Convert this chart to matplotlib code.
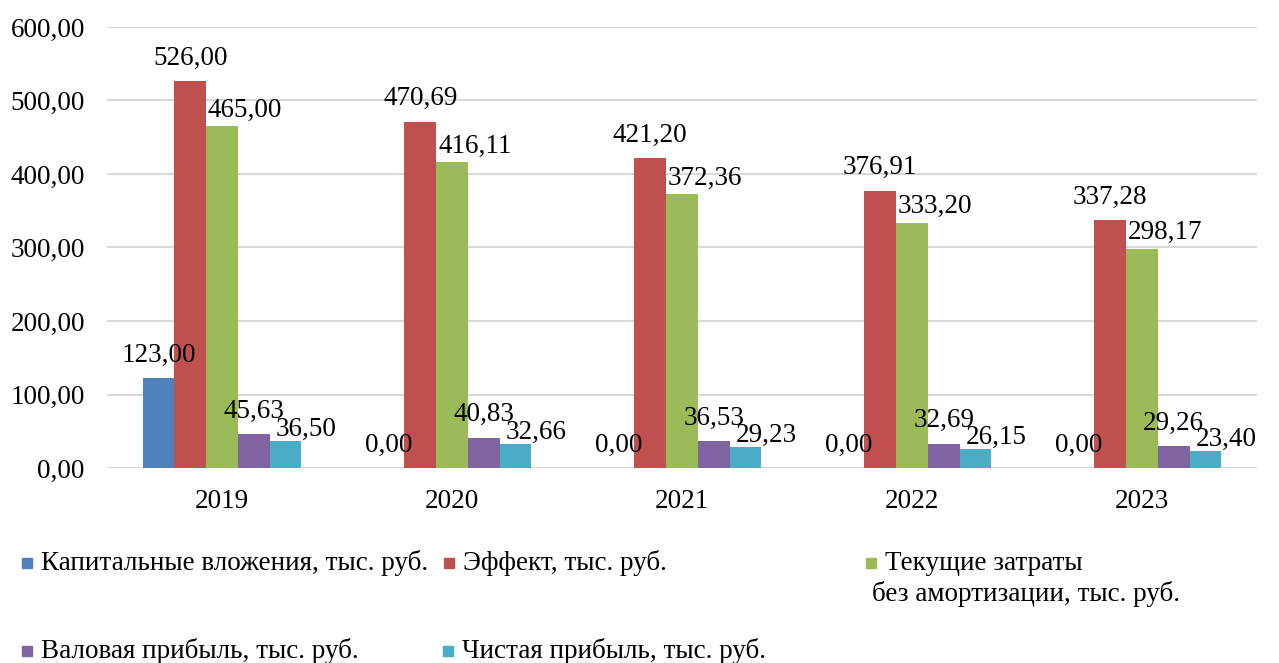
import numpy as np
import matplotlib.pyplot as plt
from matplotlib.patches import Rectangle

plt.rcParams['font.family'] = ['Liberation Serif', 'DejaVu Serif']

years = ['2019', '2020', '2021', '2022', '2023']
series_names = [
    'Капитальные вложения, тыс. руб.',
    'Эффект, тыс. руб.',
    'Текущие затраты\nбез амортизации, тыс. руб.',
    'Валовая прибыль, тыс. руб.',
    'Чистая прибыль, тыс. руб.',
]
capital = [123.00, 0.00, 0.00, 0.00, 0.00]
effect = [526.00, 470.69, 421.20, 376.91, 337.28]
costs = [465.00, 416.11, 372.36, 333.20, 298.17]
gross = [45.63, 40.83, 36.53, 32.69, 29.26]
net = [36.50, 32.66, 29.23, 26.15, 23.40]

colors = ['#4F81BD', '#C0504D', '#9BBB59', '#8064A2', '#4BACC6']
all_series = [capital, effect, costs, gross, net]
# label nudges (x in category units, y in points above bar top)
lab_dx = [0.0, 0.0, 0.10, 0.0, 0.09]
lab_dy = [11.5, 12, 7, 12, 3.5]

W, H = 1279, 663
fig = plt.figure(figsize=(W / 100, H / 100), dpi=100, facecolor='white')
ax = fig.add_axes([107 / W, 1 - 468 / H, 1150 / W, 441 / H])

x = np.arange(len(years))
bw = 0.138
for i, (vals, col) in enumerate(zip(all_series, colors)):
    xs = x + (i - 2) * bw
    ax.bar(xs, vals, width=bw, color=col, zorder=3)
    for xi, v in zip(xs, vals):
        ax.annotate(f'{v:.2f}'.replace('.', ','), (xi + lab_dx[i], v),
                    xytext=(0, lab_dy[i]), textcoords='offset points',
                    ha='center', va='baseline', fontsize=19.5, zorder=4)

ax.set_xlim(-0.5, len(years) - 0.5)
ax.set_ylim(0, 600)
ax.set_yticks(np.arange(0, 601, 100))
ax.set_yticklabels([f'{t:.2f}'.replace('.', ',') for t in np.arange(0, 601, 100)])
ax.set_xticks(x)
ax.set_xticklabels(years)
ax.tick_params(axis='both', length=0, labelsize=19.5)
ax.tick_params(axis='y', pad=16)
ax.tick_params(axis='x', pad=15)
ax.grid(axis='y', color='#d9d9d9', linewidth=1.5, zorder=0)
for s in ax.spines.values():
    s.set_visible(False)

# legend, Excel-style fixed column layout
leg_pos = [(22, 563), (444, 563), (866, 563), (22, 651), (443, 651)]
for (px, py), name, col in zip(leg_pos, series_names, colors):
    fig.add_artist(Rectangle((px / W, 1 - (py + 5) / H), 10 / W, 10 / H,
                             transform=fig.transFigure, color=col))
    lines = name.split('\n')
    fig.text((px + 19) / W, 1 - py / H, lines[0], fontsize=19.5, va='center', ha='left')
    if len(lines) > 1:
        fig.text((px + 6) / W, 1 - (py + 31) / H, lines[1], fontsize=19.5, va='center', ha='left')

fig.savefig('out.png', dpi=100, facecolor='white')
